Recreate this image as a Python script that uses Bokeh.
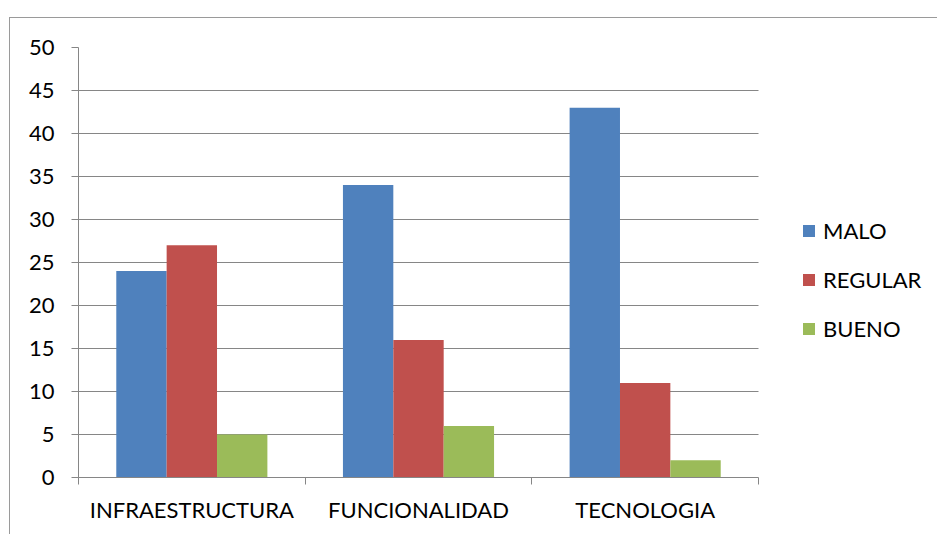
from bokeh.plotting import figure
from bokeh.models import (Range1d, LinearAxis, FixedTicker,
                          Legend, LegendItem, ColumnDataSource)
from bokeh.transform import dodge
from bokeh.embed import file_html
from bokeh.resources import INLINE

# --- data -------------------------------------------------------------
categories = ["INFRAESTRUCTURA", "FUNCIONALIDAD", "TECNOLOGIA"]
series_names = ["MALO", "REGULAR", "BUENO"]
malo = [24, 34, 43]
regular = [27, 16, 11]
bueno = [5, 6, 2]
y_ticks = [0, 5, 10, 15, 20, 25, 30, 35, 40, 45, 50]

# --- style ------------------------------------------------------------
colors = ["#4F81BD", "#C0504D", "#9BBB59"]
FONT = "Lato"
FONT_SIZE = "22px"
GRAY = "#868686"
BAR_W = 1 / 4.5  # three bars plus a 150% gap per category

# layout: the bar area is 680px wide; the frame continues 179px further
# to the right so the legend can sit beside the bars
PLOT_PX = 680
LEGEND_PX = 179
n = len(categories)
x_end = n * (PLOT_PX + LEGEND_PX) / PLOT_PX

# each category occupies one unit on the x scale, centred at i + 0.5
centers = [i + 0.5 for i in range(n)]
src = ColumnDataSource(dict(x=centers, cat=categories,
                            MALO=malo, REGULAR=regular, BUENO=bueno))

# the chart box sits 10px in from the left and 18px down from the top,
# outlined by a thin grey rule
p = figure(width=927, height=516,
           x_range=Range1d(0, x_end),
           y_range=Range1d(0, 50),
           x_axis_type=None,
           output_backend="svg", toolbar_location=None,
           min_border_left=68, min_border_right=0,
           min_border_top=29, min_border_bottom=57,
           margin=(18, 0, 0, 10),
           styles={"outline": "1px solid #9a9a9a"})
p.outline_line_color = None
p.background_fill_color = "white"
p.border_fill_color = "white"
p.xgrid.visible = False

renderers = []
for i, name in enumerate(series_names):
    r = p.vbar(x=dodge("x", (i - 1) * BAR_W), top=name,
               width=BAR_W, source=src, fill_color=colors[i], line_color=None)
    renderers.append(r)

# y axis and horizontal grid (grid stops at the end of the last category)
yax = p.yaxis[0]
yax.ticker = FixedTicker(ticks=y_ticks)
yax.major_tick_out = 7
yax.major_tick_in = 0
yax.minor_tick_out = 0
yax.minor_tick_in = 0
yax.axis_line_color = GRAY
yax.major_tick_line_color = GRAY
yax.major_label_standoff = 17
yax.major_label_text_font = FONT
yax.major_label_text_font_size = FONT_SIZE
yax.major_label_text_color = "black"

p.ygrid.ticker = FixedTicker(ticks=y_ticks)
p.ygrid.grid_line_color = GRAY
p.ygrid.grid_line_width = 1
p.ygrid.cross_bounds = (0, n)

# x axis: tick marks at category boundaries, names centred below
bounds = list(range(n + 1))
tick_axis = LinearAxis(ticker=FixedTicker(ticks=bounds), bounds=(0, n),
                       major_label_overrides={b: "" for b in bounds},
                       major_tick_out=7, major_tick_in=0,
                       minor_tick_out=0, minor_tick_in=0,
                       axis_line_color=GRAY, major_tick_line_color=GRAY,
                       major_label_standoff=0, major_label_text_font_size="1px")
p.add_layout(tick_axis, "below")

name_axis = LinearAxis(ticker=FixedTicker(ticks=centers), bounds=(0, n),
                       major_label_overrides={c: t for c, t in zip(centers, categories)},
                       axis_line_color=None, major_tick_line_color=None,
                       major_tick_out=0, major_tick_in=0,
                       minor_tick_out=0, minor_tick_in=0,
                       major_label_standoff=11,
                       major_label_text_font=FONT,
                       major_label_text_font_size=FONT_SIZE,
                       major_label_text_color="black")
p.add_layout(name_axis, "below")

# legend to the right of the bars
legend = Legend(items=[LegendItem(label=s, renderers=[r]) for s, r in zip(series_names, renderers)],
                location=(PLOT_PX + 43, 135), orientation="vertical",
                glyph_width=15, glyph_height=15, label_standoff=7,
                spacing=22, label_height=24, padding=0, margin=0,
                border_line_color=None, background_fill_alpha=0,
                label_text_font=FONT, label_text_font_size=FONT_SIZE,
                label_text_color="black")
p.add_layout(legend)

open("out.html", "w").write(file_html(p, INLINE))
